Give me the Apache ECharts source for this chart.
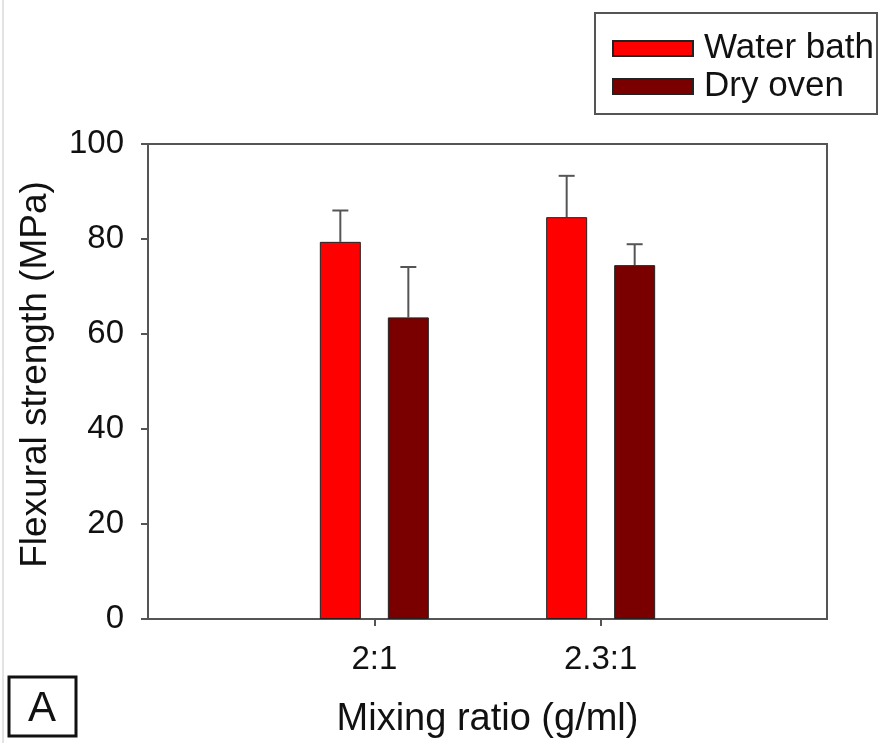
<!DOCTYPE html>
<html>
  <head>
    <meta charset="utf-8" />
    <title>Flexural strength</title>
    <script src="https://cdn.jsdelivr.net/npm/echarts@6/dist/echarts.min.js"></script>
    <style>
      html, body { margin: 0; padding: 0; background: #fff; }
    </style>
  </head>
  <body>
    <div id="main" style="width: 879px;height: 743px;"></div>
    <script type="text/javascript">
      // categories, padded with empty slots so the two groups sit at 1/3 and 2/3
      var categories = ['', '2:1', '2.3:1', '']
      var seriesNames = ['Water bath', 'Dry oven']
      var waterBath = [null, 79.4, 84.6, null]
      var waterBathErr = [null, 6.6, 8.7, null]
      var dryOven = [null, 63.5, 74.5, null]
      var dryOvenErr = [null, 10.6, 4.4, null]
      var yTicks = [0, 20, 40, 60, 80, 100]

      var font = 'Liberation Sans, Arial, sans-serif'
      var axisColor = '#555'
      var barW = 41
      var gapW = 27

      function errData(values, errs) {
        var out = []
        for (var i = 0; i < values.length; i++) {
          if (values[i] != null) {
            out.push([i, values[i], errs[i]])
          }
        }
        return out
      }

      function errorBar(offset) {
        return function (params, api) {
          var p0 = api.coord([api.value(0), api.value(1)])
          var p1 = api.coord([api.value(0), api.value(1) + api.value(2)])
          var x = p0[0] + offset
          var style = { stroke: axisColor, lineWidth: 2 }
          return {
            type: 'group',
            children: [
              { type: 'line', shape: { x1: x, y1: p0[1], x2: x, y2: p1[1] }, style: style },
              { type: 'line', shape: { x1: x - 8, y1: p1[1], x2: x + 8, y2: p1[1] }, style: style }
            ]
          }
        }
      }

      var myChart = echarts.init(document.getElementById('main'))
      var half = (barW + gapW) / 2

      var option = {
        animation: false,
        textStyle: { fontFamily: font },
        grid: {
          left: 148, top: 144, right: 52, bottom: 124,
          outerBoundsMode: 'none',
          show: true, borderColor: axisColor, borderWidth: 2
        },
        legend: {
          orient: 'vertical',
          left: 607, top: 25,
          itemWidth: 80, itemHeight: 15,
          itemGap: 1,
          icon: 'rect',
          data: seriesNames,
          textStyle: { fontSize: 35, color: '#111', lineHeight: 37, padding: [0, 0, 0, 6] }
        },
        xAxis: {
          type: 'category',
          data: categories,
          boundaryGap: false,
          name: 'Mixing ratio (g/ml)',
          nameLocation: 'middle',
          nameGap: 82,
          nameTextStyle: { fontSize: 38, color: '#111' },
          axisLine: { lineStyle: { color: axisColor, width: 2 } },
          axisTick: {
            length: 7, lineStyle: { color: axisColor, width: 2 },
            interval: function (i, v) { return v !== '' }
          },
          axisLabel: { fontSize: 33, color: '#111', margin: 24 }
        },
        yAxis: {
          type: 'value',
          min: 0, max: 100, interval: 20,
          name: 'Flexural strength (MPa)',
          nameLocation: 'middle',
          nameGap: 94,
          nameTextStyle: { fontSize: 37, color: '#111', padding: [0, 0, 0, 14] },
          axisLine: { show: true, lineStyle: { color: axisColor, width: 2 } },
          axisTick: { show: true, length: 7, lineStyle: { color: axisColor, width: 2 } },
          axisLabel: { fontSize: 33, color: '#111', margin: 24,
            formatter: function (v) { return yTicks.indexOf(v) >= 0 ? v : '' } },
          splitLine: { show: false }
        },
        series: [
          {
            name: seriesNames[0], type: 'bar', data: waterBath,
            barWidth: barW, barGap: (gapW / barW * 100) + '%',
            itemStyle: { color: '#ff0000', borderColor: '#222', borderWidth: 1 },
            z: 2
          },
          {
            name: seriesNames[1], type: 'bar', data: dryOven,
            barWidth: barW,
            itemStyle: { color: '#7a0000', borderColor: '#222', borderWidth: 1 },
            z: 2
          },
          {
            type: 'custom', data: errData(waterBath, waterBathErr),
            renderItem: errorBar(-half), z: 1, silent: true
          },
          {
            type: 'custom', data: errData(dryOven, dryOvenErr),
            renderItem: errorBar(half), z: 1, silent: true
          }
        ],
        graphic: [
          { type: 'line', shape: { x1: 3, y1: 0, x2: 3, y2: 743 }, style: { stroke: '#c8c8c8', lineWidth: 1 } },
          { type: 'rect', shape: { x: 595, y: 13, width: 282, height: 101 }, style: { fill: 'none', stroke: '#555', lineWidth: 2 } },
          { type: 'rect', shape: { x: 9, y: 677, width: 67, height: 59 }, style: { fill: '#fff', stroke: '#111', lineWidth: 3 } },
          { type: 'text', x: 42, y: 709, style: { text: 'A', font: '42px ' + font, fill: '#111', textAlign: 'center', textVerticalAlign: 'middle' } }
        ]
      }
      myChart.setOption(option)
    </script>
  </body>
</html>
